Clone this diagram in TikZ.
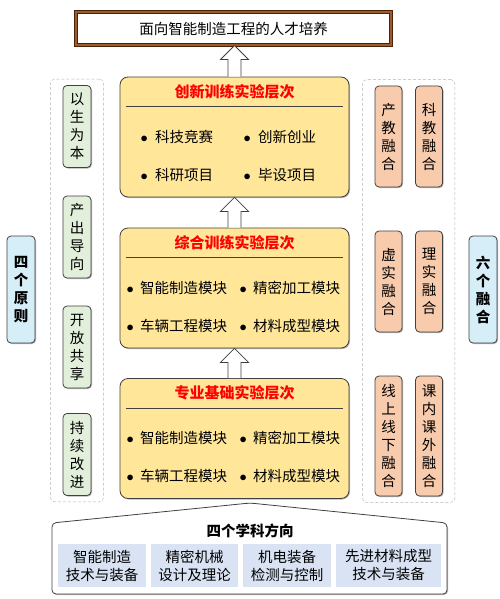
\documentclass[tikz,border=0pt]{standalone}
\usepackage{fontspec}
\setmainfont{Noto Sans CJK SC}
\usetikzlibrary{calc,fit,shadows}

\definecolor{boxgray}{HTML}{404040}
\definecolor{layerfill}{HTML}{FFE699}
\definecolor{aimfill}{HTML}{E2EFDA}
\definecolor{fusefill}{HTML}{F8CBAD}
\definecolor{sidefill}{HTML}{D6EEF8}
\definecolor{cellfill}{HTML}{DAE3F3}
\definecolor{goaldark}{HTML}{4A2208}
\definecolor{goalmid}{HTML}{9C5A2E}

\newcommand{\itm}[1]{$\bullet$\hspace{6.3pt}#1}
\newcommand{\itmwide}[1]{$\bullet$\hspace{7.3pt}#1}

\tikzset{
  every node/.style={font=\fontsize{14.5}{18}\selectfont},
  softshadow/.style={drop shadow={shadow xshift=1pt, shadow yshift=-1pt, opacity=0.3, fill=black}},
  layer/.style={draw=boxgray, fill=layerfill, line width=0.8pt, rounded corners=8pt,
    minimum width=229pt, minimum height=120pt, softshadow},
  layertitle/.style={text=red, font=\fontsize{15}{18}\selectfont\bfseries},
  item/.style={anchor=west, inner sep=0pt},
  aimbox/.style={draw=boxgray, fill=aimfill, line width=0.8pt, rounded corners=4pt,
    minimum width=28pt, minimum height=82pt, align=center, inner sep=0pt, softshadow},
  fusebox/.style={draw=boxgray, fill=fusefill, line width=0.8pt, rounded corners=4pt,
    minimum width=27pt, minimum height=101pt, align=center, inner sep=0pt, softshadow},
  sidebox/.style={draw=boxgray, fill=sidefill, line width=0.8pt, rounded corners=4pt,
    minimum width=28pt, minimum height=107pt, align=center, inner sep=0pt,
    font=\fontsize{14.5}{18}\selectfont\bfseries, softshadow},
  groupbox/.style={draw=gray!60, densely dashed, rounded corners=4pt, inner xsep=12pt, inner ysep=6pt},
  cell/.style={fill=cellfill, minimum height=43pt, align=center, inner sep=0pt},
  hollow/.style={draw=boxgray, fill=white, line width=0.8pt},
}

% hollow up arrow from lower node #1 to upper node #2
\newcommand{\uparr}[2]{%
  \filldraw[hollow] let \p1=(#1.north), \p2=(#2.south) in
    (\x1-6.5pt,\y1) -- (\x1-6.5pt,\y2-14pt) -- (\x1-14pt,\y2-14pt) -- (\x1,\y2)
    -- (\x1+14pt,\y2-14pt) -- (\x1+6.5pt,\y2-14pt) -- (\x1+6.5pt,\y1);}

\begin{document}
\begin{tikzpicture}[x=1pt,y=-1pt]
\useasboundingbox (0,0) rectangle (500,599);

% goal
\node[draw=goaldark, double=goalmid, double distance=1.4pt, line width=0.9pt, fill=white,
  minimum width=315pt, minimum height=33pt] (goal) at (233.5,28.5) {面向智能制造工程的人才培养};

% three layers
\node[layer] (innov) at (234.5,137) {};
\node[layer] (comp) at (234.5,288) {};
\node[layer] (basic) at (234.5,438.5) {};

\foreach \lay/\ttl in {innov/创新训练实验层次, comp/综合训练实验层次, basic/专业基础实验层次} {
  \node[layertitle] (\lay-title) at ($(\lay.north)+(0,15)$) {\ttl};
  \draw[boxgray, line width=0.8pt] ($(\lay.north west)+(6,30)$) -- ($(\lay.north east)+(-6,30)$);
}

\node[item] (innov-1) at (140.4,137) {\itmwide{科技竞赛}};
\node[item] (innov-2) at (243.4,137) {\itmwide{创新创业}};
\node[item] (innov-3) at (140.4,175) {\itmwide{科研项目}};
\node[item] (innov-4) at (243.4,175) {\itmwide{毕设项目}};

\node[item] (comp-1) at (126.4,288) {\itm{智能制造模块}};
\node[item] (comp-2) at (239.4,288) {\itm{精密加工模块}};
\node[item] (comp-3) at (126.4,326) {\itm{车辆工程模块}};
\node[item] (comp-4) at (239.4,326) {\itm{材料成型模块}};

\node[item] (basic-1) at (126.4,438) {\itm{智能制造模块}};
\node[item] (basic-2) at (239.4,438) {\itm{精密加工模块}};
\node[item] (basic-3) at (126.4,476) {\itm{车辆工程模块}};
\node[item] (basic-4) at (239.4,476) {\itm{材料成型模块}};

% hollow arrows
\uparr{basic}{comp}
\uparr{comp}{innov}
\uparr{innov}{goal}

% four principles
\node[aimbox] (aim1) at (77,126.5) {以\\生\\为\\本};
\node[aimbox] (aim2) at (77,237) {产\\出\\导\\向};
\node[aimbox] (aim3) at (77,347) {开\\放\\共\\享};
\node[aimbox] (aim4) at (77,454.5) {持\\续\\改\\进};
\node[groupbox, fit=(aim1)(aim4)] (aimgroup) {};
\node[sidebox] (aims) at (21,289.5) {四\\个\\原\\则};

% six fusions
\node[fusebox] (fuse1) at (388.5,136.5) {产\\教\\融\\合};
\node[fusebox] (fuse2) at (429,136.5) {科\\教\\融\\合};
\node[fusebox] (fuse3) at (388.5,281.5) {虚\\实\\融\\合};
\node[fusebox] (fuse4) at (429,281.5) {理\\实\\融\\合};
\node[fusebox, minimum height=120pt] (fuse5) at (388.5,436) {线\\上\\线\\下\\融\\合};
\node[fusebox, minimum height=120pt] (fuse6) at (429,436) {课\\内\\课\\外\\融\\合};
\node[groupbox, fit=(fuse1)(fuse6)] (fusegroup) {};
\node[sidebox] (fuses) at (483,289.5) {六\\个\\融\\合};

% four disciplines
\draw[boxgray, line width=0.8pt, fill=white, rounded corners=4pt, softshadow]
  (52,523) -- (250,503) -- (447,523) -- (447,594) -- (52,594) -- cycle;
\node[font=\fontsize{14.5}{18}\selectfont\bfseries] (dirs) at (250,531) {四个学科方向};
\node[cell, minimum width=88pt] (dir1) at (102,565.5) {智能制造\\技术与装备};
\node[cell, minimum width=87pt] (dir2) at (194.5,565.5) {精密机械\\设计及理论};
\node[cell, minimum width=88pt] (dir3) at (287,565.5) {机电装备\\检测与控制};
\node[cell, minimum width=105pt] (dir4) at (388.5,565.5) {先进材料成型\\技术与装备};
\end{tikzpicture}
\end{document}
